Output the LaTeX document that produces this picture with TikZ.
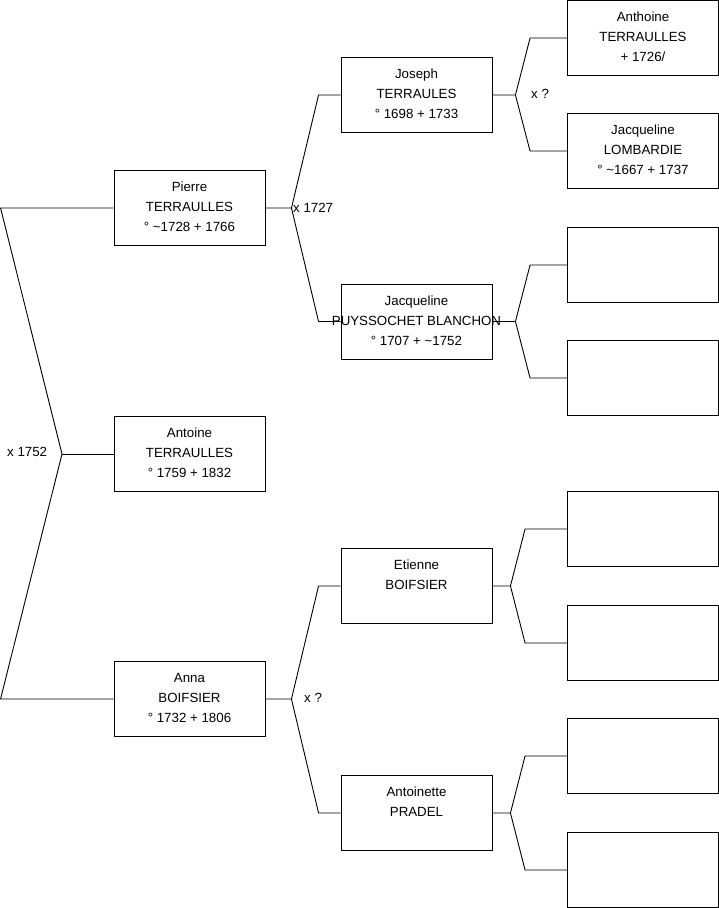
\documentclass[tikz,border=0pt]{standalone}
\usepackage{fontspec}
\setmainfont{Liberation Sans}

\begin{document}
\begin{tikzpicture}[x=1pt, y=-1pt,
  person/.style={draw, minimum width=151pt, minimum height=75pt, inner sep=0pt, line width=0.9pt},
  txt/.style={anchor=north, align=center, inner sep=0pt, yshift=-12pt, font=\fontsize{13.3}{20}\selectfont},
  wed/.style={anchor=west, inner sep=0pt, font=\fontsize{13.3}{16}\selectfont},
  link/.style={line width=0.9pt, line join=round}]
\useasboundingbox (0,0) rectangle (719,908);
% children and parents
\node[person, label={[txt]north:{Pierre\\TERRAULLES\\° \textasciitilde 1728 + 1766}}] (pierre) at (189.5,208) {};
\node[person, label={[txt]north:{Antoine\\TERRAULLES\\° 1759 + 1832}}] (antoine) at (189.5,454) {};
\node[person, label={[txt]north:{Anna\\BOIFSIER\\° 1732 + 1806}}] (anna) at (189.5,699) {};
\node[person, label={[txt]north:{Joseph\\TERRAULES\\° 1698 + 1733}}] (joseph) at (416.5,95) {};
\node[person, label={[txt]north:{Jacqueline\\PUYSSOCHET BLANCHON\\° 1707 + \textasciitilde 1752}}] (jacq) at (416.5,321.5) {};
\node[person, label={[txt]north:{Etienne\\BOIFSIER}}] (etienne) at (416.5,586) {};
\node[person, label={[txt]north:{Antoinette\\PRADEL}}] (antoinette) at (416.5,813) {};
% great-grandparents
\node[person, label={[txt]north:{Anthoine\\TERRAULLES\\+ 1726/}}] (anthoine) at (643,38) {};
\node[person, label={[txt]north:{Jacqueline\\LOMBARDIE\\° \textasciitilde 1667 + 1737}}] (lombardie) at (643,151) {};
\node[person] (ebox3) at (643,265) {};
\node[person] (ebox4) at (643,378) {};
\node[person] (ebox5) at (643,529) {};
\node[person] (ebox6) at (643,643) {};
\node[person] (ebox7) at (643,756) {};
\node[person] (ebox8) at (643,870) {};
% marriages
\coordinate (m0) at (62,454);
\draw[link] (pierre.west) -- ++(-113,0) -- (m0) -- ([xshift=-113pt]anna.west) -- (anna.west);
\draw[link] (m0) -- (antoine.west);
\foreach \p/\a/\b/\s/\t in {pierre/joseph/jacq/26/22, anna/etienne/antoinette/26/22,
    joseph/anthoine/lombardie/23/37, jacq/ebox3/ebox4/23/37,
    etienne/ebox5/ebox6/18/42, antoinette/ebox7/ebox8/18/42}
  \draw[link] (\a.west) -- ++(-\t,0) -- ([xshift=\s pt]\p.east) -- (\p.east)
    ([xshift=\s pt]\p.east) -- ([xshift=-\t pt]\b.west) -- (\b.west);
\node[wed] (w0) at (7,452) {x 1752};
\node[wed] (w1) at (293,208) {x 1727};
\node[wed] (w2) at (531,94) {x ?};
\node[wed] (w3) at (304,698) {x ?};
\end{tikzpicture}
\end{document}
